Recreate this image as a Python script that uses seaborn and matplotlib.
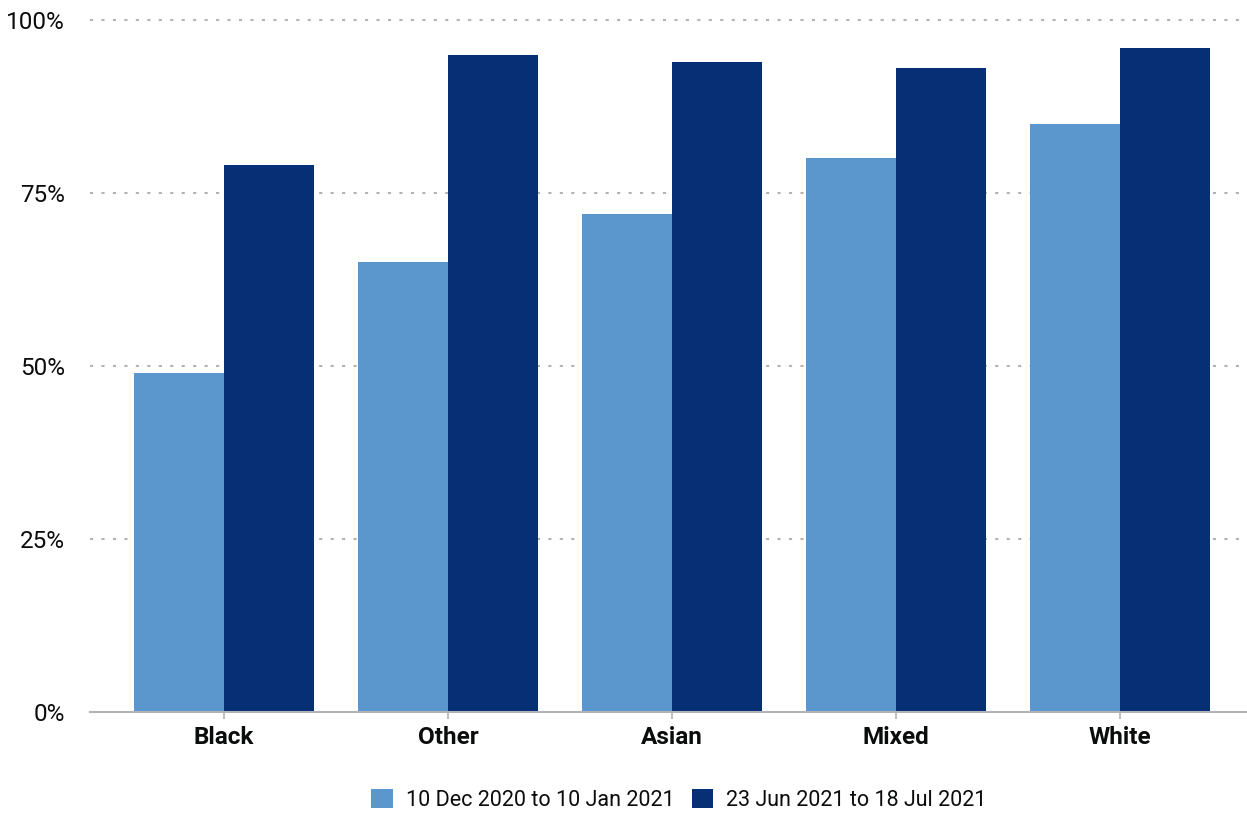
import matplotlib
matplotlib.use("Agg")
import matplotlib.pyplot as plt
import seaborn as sns
import pandas as pd
from matplotlib.ticker import FuncFormatter

categories = ["Black", "Other", "Asian", "Mixed", "White"]
period_1 = "10 Dec 2020 to 10 Jan 2021"
period_2 = "23 Jun 2021 to 18 Jul 2021"
values_1 = [49, 65, 72, 80, 85]
values_2 = [79, 95, 94, 93, 96]
y_ticks = [0, 25, 50, 75, 100]

df = pd.DataFrame({
    "group": categories * 2,
    "period": [period_1] * len(categories) + [period_2] * len(categories),
    "value": values_1 + values_2,
})

sns.set_theme(style="white")
plt.rcParams["font.family"] = ["Roboto", "DejaVu Sans"]

fig = plt.figure(figsize=(12.47, 8.15), dpi=100)
ax = fig.add_axes([90 / 1247, 1 - 712 / 815, 1 - 90 / 1247, (712 - 20) / 815])

sns.barplot(data=df, x="group", y="value", hue="period", order=categories,
            hue_order=[period_1, period_2], palette=["#5b97cd", "#062f76"],
            saturation=1, width=0.8, ax=ax, errorbar=None, linewidth=0)

ax.set_xlim(-0.598, 4.567)
ax.set_ylim(0, 100)
ax.set_yticks(y_ticks)
ax.yaxis.set_major_formatter(FuncFormatter(lambda v, p: f"{int(v)}%"))
ax.set_xlabel("")
ax.set_ylabel("")
for y in y_ticks[1:]:
    ax.axhline(y, color="#b1b4b6", linestyle=(0, (1.5, 4)), linewidth=1.5, zorder=0, clip_on=False)

for s in ["top", "right", "left"]:
    ax.spines[s].set_visible(False)
ax.spines["bottom"].set_color("#b1b4b6")
ax.spines["bottom"].set_linewidth(1.5)

ax.tick_params(axis="y", length=0, pad=18, labelsize=17.5, labelcolor="#0b0c0c")
ax.tick_params(axis="x", length=5, width=1.2, color="#b1b4b6", pad=5, labelsize=17.5, labelcolor="#0b0c0c")
ax.tick_params(axis="x", which="major", bottom=True)
for lbl in ax.get_xticklabels():
    lbl.set_fontweight("bold")

leg = ax.legend(loc="center", bbox_to_anchor=(0.509, -0.127), ncol=2, frameon=False,
                fontsize=15.5, handlelength=1.0, handleheight=1.0, handletextpad=0.6,
                columnspacing=0.8, title=None)
for t in leg.get_texts():
    t.set_color("#0b0c0c")

fig.savefig("out.png", dpi=100)
